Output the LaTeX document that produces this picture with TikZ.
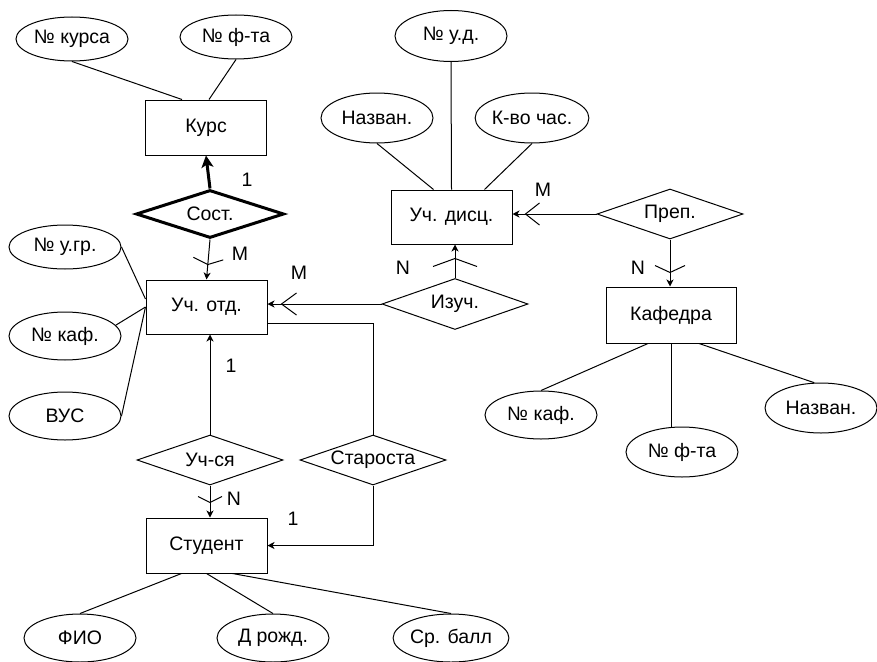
\documentclass[tikz,border=0pt]{standalone}
\usepackage{fontspec}
\setmainfont{Liberation Sans}
\usetikzlibrary{shapes.geometric,arrows.meta,decorations.markings}
\begin{document}
\begin{tikzpicture}[x=1pt,y=-1pt,line width=1pt,
  every node/.style={font=\fontsize{19.5}{22}\selectfont},
  attr/.style={draw,ellipse,minimum width=112pt,minimum height=48pt,inner sep=0pt},
  ent/.style={draw,rectangle,minimum width=121pt,minimum height=55pt,inner sep=0pt},
  rel/.style={draw,diamond,aspect=3,minimum width=146pt,minimum height=50pt,inner sep=0pt},
  lab/.style={inner sep=0pt},
  tip/.style={-{Stealth[length=7pt,width=7pt,inset=2pt]}},
  barb/.style n args={3}{postaction={decorate,decoration={markings,
     mark=at position -#1 with {\draw[-,line width=1pt] (-#2,#3) -- (0,0) -- (-#2,-#3);}}}}
]
\useasboundingbox (0,0) rectangle (877,661);

% attributes
\node[attr,minimum height=44pt] (kursn) at (72,39) {№ курса};
\node[attr,minimum height=44pt] (fta1) at (236,37) {№ ф-та};
\node[attr,minimum height=44pt] (ugr) at (65,247) {№ у.гр.};
\node[attr] (kaf1) at (65,336) {№ каф.};
\node[attr] (vus) at (65,416) {ВУС};
\node[attr,minimum height=51pt] (nud) at (451,36) {№ у.д.};
\node[attr,minimum height=50pt] (nazv1) at (377,118) {Назван.};
\node[attr,minimum height=50pt] (kvo) at (532,118) {К-во час.};
\node[attr] (kaf2) at (541,415) {№ каф.};
\node[attr,minimum height=50pt] (fta2) at (682,452) {№ ф-та};
\node[attr,minimum height=50pt] (nazv2) at (821,408) {Назван.};
\node[attr] (fio) at (80,638) {ФИО};
\node[attr] (drozhd) at (273,638) {Д рожд.};
\node[attr] (srball) at (451,638) {Ср. балл};

% entities
\node[ent] (kurs) at (206,127.5) {Курс};
\node[ent,minimum height=54pt] (uchotd) at (206.5,307) {Уч. отд.};
\node[ent,minimum height=54pt] (uchdisc) at (451.5,217) {Уч. дисц.};
\node[ent,minimum width=130pt,minimum height=56pt] (kafedra) at (671,315) {Кафедра};
\node[ent] (student) at (206.5,545.5) {Студент};

% relationships
\node[rel,line width=3pt,minimum width=148pt,minimum height=48pt] (sost) at (210,214) {Сост.};
\node[rel] (prep) at (670,214) {Преп.};
\node[rel,minimum height=51pt] (izuch) at (455,304) {Изуч.};
\node[rel] (uchsya) at (210,460) {Уч-ся};
\node[rel] (starosta) at (373,460) {Староста};

% attribute links
\draw (kursn.south) -- ([xshift=-24]kurs.north);
\draw (fta1.south) -- ([xshift=3]kurs.north);
\draw (ugr.east) -- ([yshift=8]uchotd.west);
\draw (kaf1.12) -- (uchotd.west);
\draw (vus.east) -- (uchotd.west);
\draw (nud.south) -- (uchdisc.north);
\draw (nazv1.south) -- ([xshift=-18]uchdisc.north);
\draw (kvo.south) -- ([xshift=33]uchdisc.north);
\draw ([xshift=-23]kafedra.south) -- (kaf2.north);
\draw (kafedra.south) -- (kafedra.south |- fta2.north);
\draw ([xshift=28]kafedra.south) -- (nazv2.105);
\draw ([xshift=-25]student.south) -- (fio.north);
\draw (student.south) -- (drozhd.north);
\draw ([xshift=26]student.south) -- (srball.north);

% relationship links
\draw[line width=3pt,-{Stealth[length=12pt,width=12pt,inset=3pt]}] (sost.north) -- (kurs.south);
\node[lab] (l1) at (247,180) {1};
\draw[tip,barb={15pt}{6}{15}] (sost.south) -- (uchotd.north);
\node[lab] (lm1) at (240,254) {M};

\draw[tip,barb={14pt}{15}{11}] (izuch.west) -- (izuch.west -| uchotd.east);
\node[lab] (lm2) at (299,273) {M};
\draw[tip,barb={14pt}{8}{22}] (izuch.north) -- (izuch.north |- uchdisc.south);
\node[lab] (ln1) at (403,268) {N};

\draw[tip,barb={13pt}{14}{11}] (prep.west) -- (prep.west -| uchdisc.east);
\node[lab] (lm3) at (543,190) {M};
\draw[tip,barb={14pt}{7}{15}] (prep.south) -- (prep.south |- kafedra.north);
\node[lab] (ln2) at (638,268) {N};

\draw[tip] (uchsya.north) -- (uchsya.north |- uchotd.south);
\node[lab] (l2) at (231,366) {1};
\draw[tip,barb={15pt}{6}{12}] (uchsya.south) -- (uchsya.south |- student.north);
\node[lab] (ln3) at (234,499) {N};

\draw ([yshift=-16]uchotd.east) -| (starosta.north);
\draw[tip] (starosta.south) |- (student.east);
\node[lab] (l3) at (293,519) {1};
\end{tikzpicture}
\end{document}
